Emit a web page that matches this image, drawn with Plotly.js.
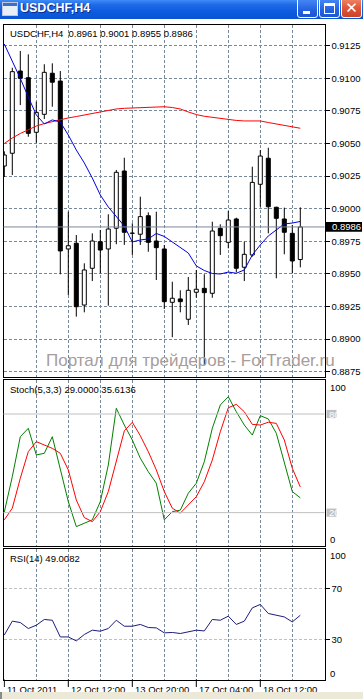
<!DOCTYPE html>
<html><head><meta charset="utf-8">
<script src="https://cdn.plot.ly/plotly-3.0.1.min.js"></script>
<style>
html,body{margin:0;padding:0;background:#fff;overflow:hidden;width:363px;height:699px;}
#chart{position:absolute;left:0;top:0;width:363px;height:699px;}
#tb{position:absolute;left:0;top:0;width:363px;height:19px;background:linear-gradient(#3d8cf5 0%,#2069e8 25%,#0d5de0 60%,#0a53d2 100%);}
#tbtext{position:absolute;left:20px;top:1px;font:bold 12.5px "Liberation Sans",Arial,sans-serif;color:#fff;text-shadow:1px 1px 0 #0b2a8a;line-height:15px;}
#icon{position:absolute;left:2px;top:2px;width:14px;height:12px;background:#e8eef8;border:1px solid #c0c8d8;}
#icon:before{content:"";position:absolute;left:0;top:0;width:14px;height:3px;background:#3a6fd0;}
.btn{position:absolute;top:-3px;width:19px;height:19px;border:1px solid #fff;border-radius:3px;background:linear-gradient(#4b8df8,#2563e3 60%,#1e55d0);}
#bmin{left:297px;} #bmax{left:319px;}
#bcls{left:341px;background:linear-gradient(#f08c6c,#e0583a 50%,#c9432a);}
#bmin:after{content:"";position:absolute;left:5px;top:13px;width:7px;height:3px;background:#fff;}
#bmax:after{content:"";position:absolute;left:4px;top:5px;width:9px;height:7px;border:1px solid #fff;border-top-width:3px;}
#bcls span{position:absolute;left:0;top:2px;width:19px;text-align:center;color:#fff;font:bold 15px "DejaVu Sans",sans-serif;line-height:17px;}
#bottombar{position:absolute;left:0;top:692px;width:363px;height:7px;background:#ece9d8;}
#leftbar{position:absolute;left:0;top:692px;width:2px;height:7px;background:#8a8a8a;}
</style></head><body>
<div id="chart"></div>
<div id="tb"><div id="icon"></div><div id="tbtext">USDCHF,H4</div>
<div class="btn" id="bmin"></div><div class="btn" id="bmax"></div><div class="btn" id="bcls"><span>✕</span></div></div>
<div id="bottombar"></div><div id="leftbar"></div>
<script>
// ---------------- DATA ----------------
const symbol = "USDCHF,H4";
const open  = [0.90327,0.90425,0.91056,0.91005,0.90586,0.90724,0.91039,0.90979,0.89691,0.89735,0.89261,0.89543,0.89747,0.89691,0.89850,0.90289,0.89811,0.89804,0.89946,0.89752,0.89691,0.89282,0.89308,0.89152,0.89359,0.89389,0.89351,0.89850,0.89742,0.89921,0.89551,0.89645,0.90187,0.90387,0.90011,0.89921,0.89811,0.8961];
const high  = [0.90440,0.91081,0.91210,0.91184,0.90821,0.91108,0.91115,0.91056,0.89977,0.89798,0.89581,0.89811,0.89837,0.89957,0.90297,0.90391,0.89888,0.90092,0.89972,0.89977,0.89721,0.89440,0.89374,0.89476,0.89530,0.89497,0.89900,0.89880,0.89982,0.89931,0.89747,0.90322,0.90450,0.90468,0.90015,0.90008,0.89875,0.9001];
const low   = [0.90243,0.90258,0.90795,0.90552,0.90506,0.90688,0.90782,0.89497,0.89338,0.89172,0.89205,0.89445,0.89504,0.89256,0.89727,0.89722,0.89645,0.89722,0.89670,0.89453,0.89231,0.89014,0.89205,0.89108,0.89317,0.88800,0.89317,0.89645,0.89696,0.89512,0.89445,0.89632,0.90015,0.89811,0.89466,0.89650,0.89504,0.8955];
const close = [0.90412,0.91051,0.91000,0.90578,0.90739,0.91046,0.90970,0.89676,0.89716,0.89248,0.89530,0.89752,0.89683,0.89844,0.90279,0.89819,0.89813,0.89939,0.89742,0.89701,0.89287,0.89313,0.89287,0.89374,0.89382,0.89356,0.89829,0.89793,0.89913,0.89543,0.89650,0.90202,0.90404,0.90015,0.89926,0.89819,0.89599,0.8986];
const maFast = [0.91263,0.91133,0.90999,0.90857,0.90719,0.90650,0.90681,0.90665,0.90565,0.90450,0.90351,0.90235,0.90105,0.90013,0.89944,0.89867,0.89745,0.89760,0.89768,0.89810,0.89787,0.89745,0.89706,0.89660,0.89561,0.89526,0.89503,0.89499,0.89514,0.89505,0.89530,0.89645,0.89722,0.89791,0.89837,0.89883,0.89890,0.89902];
const maSlow = [0.90500,0.90542,0.90577,0.90607,0.90634,0.90653,0.90669,0.90680,0.90696,0.90707,0.90719,0.90730,0.90744,0.90753,0.90765,0.90770,0.90772,0.90776,0.90778,0.90780,0.90782,0.90776,0.90765,0.90742,0.90722,0.90709,0.90700,0.90692,0.90682,0.90677,0.90673,0.90673,0.90673,0.90661,0.90650,0.90638,0.90629,0.90617];
const stochK = [20.4,41.9,66.2,71.3,55.1,56.1,66.2,47.0,26.7,11.5,13.6,15.6,26.7,49.0,83.5,73.3,64.2,53.1,44.9,37.9,15.6,20.6,21.5,31.8,37.9,51.0,71.3,85.5,90.5,81.4,73.3,67.2,79.0,77.0,68.3,50.0,32.8,29.0];
const stochD = [15.6,22.7,40.9,57.1,63.2,61.2,59.1,56.1,46.0,27.7,17.0,14.5,20.6,32.8,52.0,69.7,75.0,66.8,57.1,46.0,32.8,22.7,19.7,24.7,29.7,38.8,52.0,69.2,83.8,85.9,81.4,73.7,73.3,75.0,74.3,64.2,47.0,35.6136];
const rsi = [33.5,44.4,43.3,38.6,41.2,45.7,45.1,32.0,32.0,28.9,33.9,37.3,36.5,38.6,45.1,40.4,40.4,41.8,39.4,39.1,35.2,35.5,34.7,36.0,37.3,36.7,45.7,45.1,48.3,41.8,44.4,54.8,57.5,50.4,49.1,47.7,43.8,49.0082];
const priceTicks = [0.8875,0.8900,0.8925,0.8950,0.8975,0.9000,0.9025,0.9050,0.9075,0.9100,0.9125];
const timeLabelBars = [0,8,16,24,32];
const timeLabels = ["11 Oct 2011","12 Oct 12:00","13 Oct 20:00","17 Oct 04:00","18 Oct 12:00"];
const gridBars = [4,8,12,16,20,24,28,32,36];
const stochLevels = [80,20];
const rsiLevels = [70,30];
const rsiLevelLabels = ["70","30"];
const stochParams = "Stoch(5,3,3)";
const rsiParams = "RSI(14)";

// ---------------- LAYOUT HELPERS ----------------
const W = 363, H = 699;
const pxX = x => x / W;
const pxY = y => (H - y) / H;
const bars = open.map((_, i) => i);
const last = open.length - 1;
const FONT = '"Liberation Sans", Arial, sans-serif';
const GRID = '#778899';
const xDom = [pxX(3.5), pxX(324.5)];
const xRange = [-0.1, 40.025];

// candle geometry from OHLC
const bodyBase = bars.map(i => Math.min(open[i], close[i]));
const bodyLen = bars.map(i => Math.max(Math.abs(close[i] - open[i]), 0.00002));
const bodyCol = bars.map(i => close[i] >= open[i] ? '#ffffff' : '#000000');
const wx = [], wy = [];
bars.forEach(i => {
  const top = Math.max(open[i], close[i]), bot = Math.min(open[i], close[i]);
  wx.push(i, i, null, i, i, null);
  wy.push(high[i], top, null, bot, low[i], null);
});

const traces = [
  {type:'bar', x:bars, base:bodyBase, y:bodyLen, width:0.5, xaxis:'x', yaxis:'y',
   marker:{color:bodyCol, line:{color:'#000', width:1}}, hoverinfo:'skip'},
  {type:'scatter', mode:'lines', x:wx, y:wy, xaxis:'x', yaxis:'y', line:{color:'#000', width:1}, hoverinfo:'skip'},
  {type:'scatter', mode:'lines', x:bars, y:maSlow, xaxis:'x', yaxis:'y', line:{color:'#ff0000', width:1}},
  {type:'scatter', mode:'lines', x:bars, y:maFast, xaxis:'x', yaxis:'y', line:{color:'#0000e0', width:1}},
  {type:'scatter', mode:'lines', x:bars, y:stochK, xaxis:'x2', yaxis:'y2', line:{color:'#008000', width:1}},
  {type:'scatter', mode:'lines', x:bars, y:stochD, xaxis:'x2', yaxis:'y2', line:{color:'#ff0000', width:1}},
  {type:'scatter', mode:'lines', x:bars, y:rsi, xaxis:'x3', yaxis:'y3', line:{color:'#1c1c80', width:1}}
];

function xAxis(anchor) {
  return {domain:xDom, range:xRange, anchor:anchor, showline:true, mirror:true, linecolor:'#000', linewidth:1,
    zeroline:false, tickvals:gridBars, showticklabels:false, ticks:'', showgrid:true,
    gridcolor:GRID, griddash:'3px,2px', gridwidth:1, fixedrange:true};
}

const shapes = [];
const annotations = [];
const tf = (s, c) => ({family:FONT, size:s, color:c || '#000'});

// bid line
shapes.push({type:'line', xref:'paper', x0:xDom[0], x1:xDom[1], yref:'y', y0:close[last], y1:close[last], line:{color:'#7a8898', width:1}});
// price label box
shapes.push({type:'rect', xref:'paper', x0:pxX(326), x1:pxX(362), yref:'y', y0:close[last]-0.00037, y1:close[last]+0.00037, fillcolor:'#000', line:{width:0}});
annotations.push({xref:'paper', x:pxX(330), xanchor:'left', yref:'y', y:close[last], yanchor:'middle', text:close[last].toFixed(4), showarrow:false, font:tf(9.5,'#fff')});

// stoch levels
stochLevels.forEach(v => {
  shapes.push({type:'line', xref:'paper', x0:xDom[0], x1:xDom[1], yref:'y2', y0:v, y1:v, line:{color:'#c0c0c0', width:1}});
  shapes.push({type:'rect', xref:'paper', x0:pxX(326.5), x1:pxX(336.5), yref:'y2', y0:v-2.5, y1:v+2.5, fillcolor:'#c0c0c0', line:{width:0}});
  annotations.push({xref:'paper', x:pxX(326.5), xanchor:'left', yref:'y2', y:v, yanchor:'middle', text:String(v), showarrow:false, font:tf(9.5,'#fff')});
});
annotations.push({xref:'paper', x:pxX(328), xanchor:'left', yref:'paper', y:pxY(387.5), yanchor:'middle', text:'100', showarrow:false, font:tf(9.5)});
annotations.push({xref:'paper', x:pxX(328), xanchor:'left', yref:'paper', y:pxY(539.5), yanchor:'middle', text:'0', showarrow:false, font:tf(9.5)});
annotations.push({xref:'paper', x:pxX(328), xanchor:'left', yref:'paper', y:pxY(555), yanchor:'middle', text:'100', showarrow:false, font:tf(9.5)});
annotations.push({xref:'paper', x:pxX(328), xanchor:'left', yref:'paper', y:pxY(673.5), yanchor:'middle', text:'0', showarrow:false, font:tf(9.5)});

// panel captions
const sp = '\u00a0';
annotations.push({xref:'paper', x:pxX(7.5), xanchor:'left', yref:'paper', y:pxY(33.7), yanchor:'middle', showarrow:false, font:tf(9.5),
  text:`${symbol}${sp}${sp}${open[last].toFixed(4)} ${high[last].toFixed(4)} ${low[last].toFixed(4)} ${close[last].toFixed(4)}`});
annotations.push({xref:'paper', x:pxX(7.5), xanchor:'left', yref:'paper', y:pxY(389.5), yanchor:'middle', showarrow:false, font:tf(9.5),
  text:`${stochParams} ${stochK[last].toFixed(4)} ${stochD[last].toFixed(4)}`});
annotations.push({xref:'paper', x:pxX(7.5), xanchor:'left', yref:'paper', y:pxY(558.3), yanchor:'middle', showarrow:false, font:tf(9.5),
  text:`${rsiParams} ${rsi[last].toFixed(4)}`});

// time labels
timeLabelBars.forEach((b, k) => {
  shapes.push({type:'line', xref:'x3', x0:b, x1:b, yref:'paper', y0:pxY(679.5), y1:pxY(687), line:{color:'#000', width:1}});
  annotations.push({xref:'x3', x:b, xanchor:'left', xshift:1, yref:'paper', y:pxY(689), yanchor:'middle', text:timeLabels[k], showarrow:false, font:tf(9.5)});
});

// watermark
annotations.push({xref:'paper', x:pxX(44), xanchor:'left', yref:'paper', y:pxY(360), yanchor:'middle', showarrow:false,
  text:'Портал для трейдеров - ForTrader.ru', font:tf(17,'#a89c9c')});

const layout = {
  width:W, height:H, margin:{l:0,r:0,t:0,b:0}, paper_bgcolor:'#fff', plot_bgcolor:'#fff',
  showlegend:false, barmode:'overlay', dragmode:false, font:{family:FONT, size:9.5, color:'#000'},
  xaxis:xAxis('y'), xaxis2:xAxis('y2'), xaxis3:xAxis('y3'),
  yaxis:{domain:[pxY(377), pxY(25)], range:[0.88709, 0.91409], anchor:'x', side:'right', showline:true, mirror:true,
    linecolor:'#000', linewidth:1, zeroline:false, tickvals:priceTicks, ticktext:priceTicks.map(v => v.toFixed(4)),
    ticks:'outside', ticklen:4, tickcolor:'#000', tickfont:tf(9.5), showgrid:true, gridcolor:GRID, griddash:'3px,2px', fixedrange:true},
  yaxis2:{domain:[pxY(546), pxY(380)], range:[-0.3, 100.7], anchor:'x2', side:'right', showline:true, mirror:true,
    linecolor:'#000', linewidth:1, zeroline:false, tickvals:[], showticklabels:false, showgrid:false, fixedrange:true},
  yaxis3:{domain:[pxY(679.5), pxY(548.5)], range:[-1.4, 101.4], anchor:'x3', side:'right', showline:true, mirror:true,
    linecolor:'#000', linewidth:1, zeroline:false, tickvals:rsiLevels, ticktext:rsiLevelLabels, ticks:'outside', ticklen:4,
    tickcolor:'#000', tickfont:tf(9.5), showgrid:true, gridcolor:'#c0c0c0', griddash:'3px,2px', fixedrange:true},
  shapes:shapes, annotations:annotations
};

Plotly.newPlot('chart', traces, layout, {staticPlot:true, displayModeBar:false});
</script>
</body></html>
